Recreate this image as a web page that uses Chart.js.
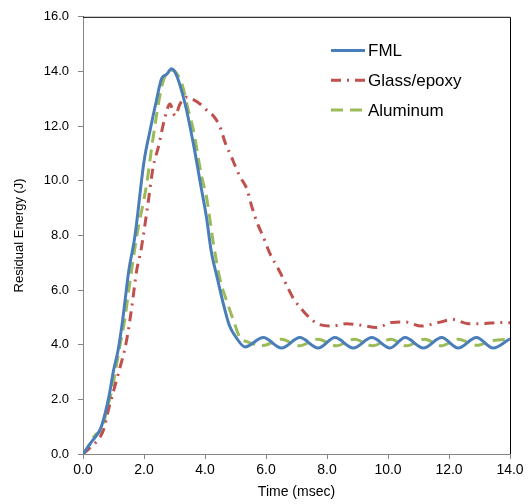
<!DOCTYPE html>
<html>
<head>
<meta charset="utf-8">
<script src="https://cdn.jsdelivr.net/npm/chart.js@4/dist/chart.umd.min.js"></script>
<style>
  html, body { margin: 0; padding: 0; background: #fff; }
  #wrap { width: 529px; height: 504px; }
</style>
</head>
<body>
<div id="wrap"><canvas id="energyChart" width="529" height="504"></canvas></div>
<script>
// values
const fmlTime = [0, 0.25, 0.6, 0.85, 1.0, 1.15, 1.3, 1.5, 1.7, 2.0, 2.2, 2.4, 2.58, 2.75, 2.9, 3.05, 3.35, 3.62, 3.85, 4.05, 4.2, 4.4, 4.6, 4.8, 5.0, 5.31,
  5.91, 6.51, 7.11, 7.71, 8.26, 8.86, 9.47, 10.07, 10.56, 11.16, 11.76, 12.3, 12.9, 13.45, 14.0];
const fmlEnergy = [0, 0.4, 1.0, 2.1, 3.05, 3.8, 4.9, 6.7, 7.95, 10.7, 11.85, 12.9, 13.75, 13.9, 14.1, 13.9, 12.8, 11.35, 9.9, 8.65, 7.45, 6.45, 5.5, 4.7, 4.3, 3.92,
  4.26, 3.88, 4.26, 3.88, 4.26, 3.88, 4.26, 3.88, 4.26, 3.88, 4.26, 3.88, 4.26, 3.88, 4.22];

const glassTime = [0, 0.3, 0.55, 0.67, 0.86, 1.16, 1.43, 1.6, 1.76, 1.9, 2.13, 2.3, 2.47, 2.69, 2.85, 3.02, 3.18, 3.4, 3.56, 3.84, 4.16, 4.27, 4.49, 4.66, 4.87,
  5.15, 5.37, 5.53, 5.7, 5.91, 6.13, 6.4, 6.66, 6.9, 7.26, 7.55, 7.72, 8.15, 8.64, 9.13, 9.63, 10.12, 10.56, 11.1, 11.65, 12.12, 12.63, 13.12, 13.62, 14.0];
const glassEnergy = [0, 0.3, 0.6, 0.88, 1.73, 2.95, 4.16, 5.38, 6.72, 7.45, 9.16, 10.5, 11.23, 12.33, 12.81, 12.38, 12.81, 13.06, 13.0, 12.81, 12.47, 12.38, 11.98, 11.4, 10.86,
  10.14, 9.71, 9.07, 8.49, 7.95, 7.33, 6.78, 6.21, 5.69, 5.18, 4.87, 4.75, 4.68, 4.77, 4.71, 4.63, 4.81, 4.83, 4.68, 4.81, 4.92, 4.77, 4.77, 4.81, 4.8];

const alumTime = [0, 0.1, 0.4, 0.62, 0.78, 0.95, 1.05, 1.2, 1.38, 1.5, 1.76, 2.09, 2.25, 2.47, 2.63, 2.9, 3.24, 3.46, 3.62, 3.89, 4.05, 4.27, 4.49, 4.71, 4.93, 5.15, 5.35,
  5.9, 6.5, 7.1, 7.7, 8.3, 8.9, 9.5, 10.1, 10.6, 11.2, 11.75, 12.3, 12.9, 13.45, 14.0];
const alumEnergy = [0, 0.15, 0.7, 0.9, 1.6, 2.35, 2.95, 3.9, 5.0, 6.0, 7.95, 9.9, 11.2, 12.8, 13.65, 14.05, 13.55, 12.55, 11.85, 10.15, 9.4, 7.75, 6.4, 5.6, 4.9, 4.25, 4.12,
  3.97, 4.2, 3.96, 4.2, 3.96, 4.2, 3.96, 4.2, 3.96, 4.2, 3.96, 4.2, 3.98, 4.15, 4.2];

const seriesNames = ['FML', 'Glass/epoxy', 'Aluminum'];

const toPoints = (xs, ys) => xs.map((x, i) => ({ x, y: ys[i] }));
const font = "'Liberation Sans', Arial, sans-serif";
const axisGray = '#868686';

// legend drawn inside the plot, top right, like the original
const insideLegend = {
  id: 'insideLegend',
  afterDraw(chart) {
    const c = chart.ctx;
    c.save();
    chart.data.datasets.forEach((ds, i) => {
      const y = 50.5 + i * 29.7;
      c.strokeStyle = ds.borderColor;
      c.lineWidth = 3;
      c.setLineDash(ds.borderDash || []);
      c.beginPath();
      c.moveTo(331, y);
      c.lineTo(365, y);
      c.stroke();
      c.setLineDash([]);
      c.fillStyle = '#000';
      c.font = '17px ' + font;
      c.textBaseline = 'middle';
      c.fillText(ds.label, 368, y + 1);
    });
    c.restore();
  }
};

// black frame on the top and right sides
const frameLines = {
  id: 'frameLines',
  afterDraw(chart) {
    const { top, right, left, bottom } = chart.chartArea;
    const c = chart.ctx;
    c.save();
    c.strokeStyle = '#000';
    c.lineWidth = 1;
    c.beginPath();
    c.moveTo(left, top + 0.5);
    c.lineTo(right + 0.5, top + 0.5);
    c.lineTo(right + 0.5, bottom);
    c.stroke();
    c.restore();
  }
};

new Chart(document.getElementById('energyChart'), {
  type: 'line',
  data: {
    datasets: [
      { label: seriesNames[0], data: toPoints(fmlTime, fmlEnergy), borderColor: '#4a7ebb', borderWidth: 3, pointRadius: 0, cubicInterpolationMode: 'monotone' },
      { label: seriesNames[1], data: toPoints(glassTime, glassEnergy), borderColor: '#c0504d', borderWidth: 3, borderDash: [10, 6, 2, 6], pointRadius: 0, cubicInterpolationMode: 'monotone' },
      { label: seriesNames[2], data: toPoints(alumTime, alumEnergy), borderColor: '#9bbb59', borderWidth: 3, borderDash: [12, 7], pointRadius: 0, cubicInterpolationMode: 'monotone' }
    ]
  },
  options: {
    responsive: false,
    animation: false,
    layout: { padding: { top: 16, right: 19, left: 0, bottom: 0 } },
    plugins: { legend: { display: false }, tooltip: { enabled: false } },
    scales: {
      x: {
        type: 'linear', min: 0, max: 14,
        afterFit: s => { s.height = 50; },
        border: { color: axisGray },
        grid: { drawOnChartArea: false, tickLength: 5, color: axisGray },
        ticks: { stepSize: 2, padding: 3, color: '#000', font: { family: font, size: 14 }, callback: v => v.toFixed(1) },
        title: { display: true, text: 'Time (msec)', color: '#000', font: { family: font, size: 14 }, padding: { top: 0, bottom: 3 } }
      },
      y: {
        min: 0, max: 16,
        afterFit: s => { s.width = 83; },
        border: { color: axisGray },
        grid: { drawOnChartArea: false, tickLength: 5, color: axisGray },
        ticks: { stepSize: 2, padding: 9, color: '#000', font: { family: font, size: 13 }, callback: v => v.toFixed(1) },
        title: { display: true, text: 'Residual Energy (J)', color: '#000', font: { family: font, size: 13 }, padding: { top: 12, bottom: 0 } }
      }
    }
  },
  plugins: [insideLegend, frameLines]
});
</script>
</body>
</html>
